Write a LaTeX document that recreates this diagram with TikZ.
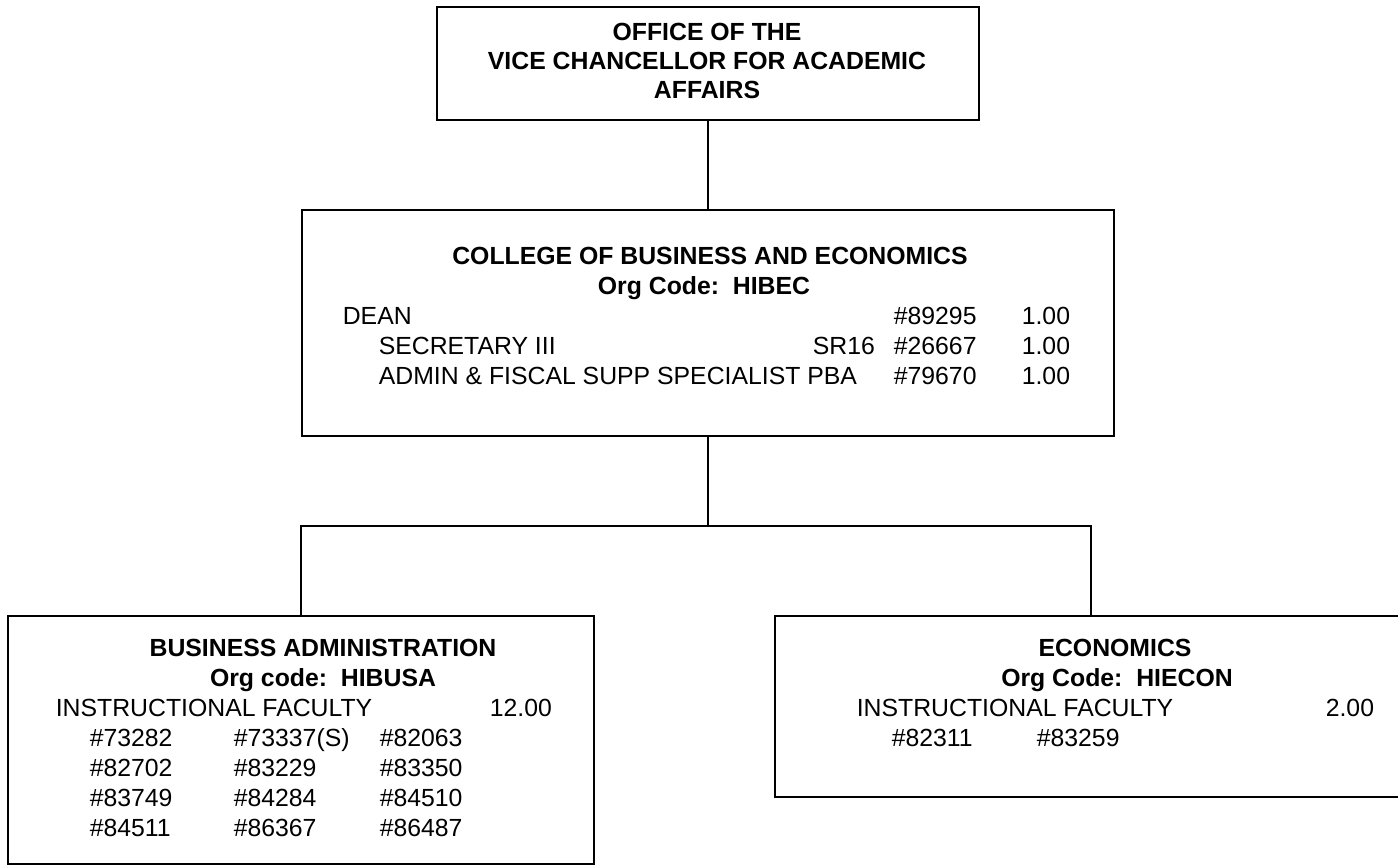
\documentclass[tikz,border=0pt]{standalone}
\usepackage{fontspec}
\setmainfont{Liberation Sans}
\usepackage{tikz}

\begin{document}
\begin{tikzpicture}[
  x=0.5pt, y=-0.5pt,
  line width=0.8pt,
  font=\fontsize{12.4}{15}\selectfont,
  orgbox/.style={rectangle,draw,inner sep=0pt,outer sep=0pt},
  head/.style={inner sep=0pt,anchor=base,font=\fontsize{12.4}{15}\selectfont\bfseries},
  entry/.style={inner sep=0pt,anchor=base west}
]
  \useasboundingbox (0,0) rectangle (1398,866);
  \clip (0,0) rectangle (1398,866);
  % boxes
  \node[orgbox,minimum width=271pt,minimum height=56.5pt] (office) at (708,63.5) {};
  \node[orgbox,minimum width=406pt,minimum height=113pt] (college) at (708,323) {};
  \node[orgbox,minimum width=293pt,minimum height=124pt] (busadm) at (301,740) {};
  \node[orgbox,minimum width=316pt,minimum height=90.5pt] (econ) at (1091,706.5) {};
  \coordinate (split) at (708,526);
  % connectors
  \draw (office) -- (college);
  \draw (college) -- (split);
  \draw (busadm) |- (split) -| (econ);
  % office
  \node[head] (o1) at (707,41) {OFFICE OF THE};
  \node[head] (o2) at (707,70) {VICE CHANCELLOR FOR ACADEMIC};
  \node[head] (o3) at (707,99) {AFFAIRS};
  % college
  \node[head] (c1) at (710,265) {COLLEGE OF BUSINESS AND ECONOMICS};
  \node[head] (c2) at (704,295) {Org Code:\ \ HIBEC};
  \node[entry] (c3) at (342,325) {DEAN};
  \node[entry] (c4) at (893,325) {\#89295};
  \node[entry] (c5) at (1021,325) {1.00};
  \node[entry] (c6) at (378,355) {SECRETARY III};
  \node[entry] (c7) at (812,355) {SR16};
  \node[entry] (c8) at (893,355) {\#26667};
  \node[entry] (c9) at (1021,355) {1.00};
  \node[entry] (c10) at (378,385) {ADMIN \& FISCAL SUPP SPECIALIST PBA};
  \node[entry] (c11) at (893,385) {\#79670};
  \node[entry] (c12) at (1021,385) {1.00};
  % business administration
  \node[head] (b1) at (323,656) {BUSINESS ADMINISTRATION};
  \node[head] (b2) at (323,686) {Org code:\ \ HIBUSA};
  \node[entry] (b3) at (55,716) {INSTRUCTIONAL FACULTY};
  \node[entry] (b4) at (489,716) {12.00};
  \node[entry] (b5) at (89,746) {\#73282};
  \node[entry] (b6) at (233,746) {\#73337(S)};
  \node[entry] (b7) at (379,746) {\#82063};
  \node[entry] (b8) at (89,776) {\#82702};
  \node[entry] (b9) at (233,776) {\#83229};
  \node[entry] (b10) at (379,776) {\#83350};
  \node[entry] (b11) at (89,806) {\#83749};
  \node[entry] (b12) at (233,806) {\#84284};
  \node[entry] (b13) at (379,806) {\#84510};
  \node[entry] (b14) at (89,836) {\#84511};
  \node[entry] (b15) at (233,836) {\#86367};
  \node[entry] (b16) at (379,836) {\#86487};
  % economics
  \node[head] (e1) at (1115,656) {ECONOMICS};
  \node[head] (e2) at (1117,686) {Org Code:\ \ HIECON};
  \node[entry] (e3) at (856,716) {INSTRUCTIONAL FACULTY};
  \node[entry] (e4) at (1325,716) {2.00};
  \node[entry] (e5) at (891,746) {\#82311};
  \node[entry] (e6) at (1036,746) {\#83259};
\end{tikzpicture}
\end{document}
